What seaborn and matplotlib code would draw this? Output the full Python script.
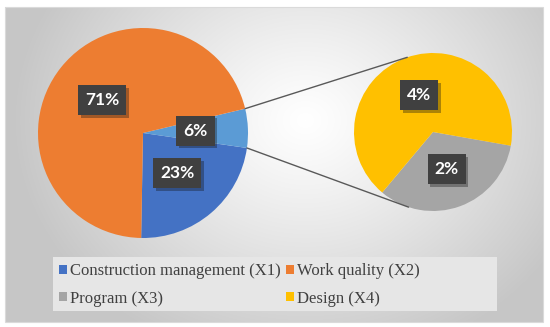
import numpy as np
import matplotlib
matplotlib.use("Agg")
import matplotlib.pyplot as plt
import matplotlib.patheffects as pe
from matplotlib.patches import Rectangle, Patch
import seaborn as sns

# ---- data ----
categories = ["Construction management (X1)", "Work quality (X2)", "Program (X3)", "Design (X4)"]
shares = [23, 71, 2, 4]  # percent
main_labels = ["Construction management (X1)", "Other", "Work quality (X2)"]
main_values = [23, 6, 71]
sub_labels = ["Program (X3)", "Design (X4)"]
sub_values = [2, 4]

colors = {"Construction management (X1)": "#4472C4",
          "Work quality (X2)": "#ED7D31",
          "Program (X3)": "#A5A5A5",
          "Design (X4)": "#FFC000",
          "Other": "#5B9BD5"}

sns.set_theme(style="white")

W, H = 550, 327
fig = plt.figure(figsize=(W / 100, H / 100), dpi=100)
ax = fig.add_axes([0, 0, 1, 1])
ax.set_facecolor("white")

def Y(y):
    return H - y

# background radial gradient
x0, x1, y0, y1 = 5, 543, 7, 322
gx, gy = np.meshgrid(np.arange(x0, x1), np.arange(y0, y1))
d = np.sqrt(((gx - 305) / 1.0) ** 2 + ((gy - 120) / 0.85) ** 2)
t = np.clip(d / 290.0, 0, 1) ** 1.15
val = 1.0 - 0.22 * t
img = np.dstack([val, val, val])
ax.imshow(img, extent=(x0, x1, Y(y1), Y(y0)), origin="upper", aspect="auto", zorder=0)
ax.add_patch(Rectangle((x0, Y(y1)), x1 - x0, y1 - y0, fill=False, ec="#dadada", lw=0.8, zorder=1))

label_kw = dict(color="white", fontsize=12.5, fontweight="bold", family=["Lato", "DejaVu Sans"])

def style_labels(texts):
    for t in texts:
        t.set(**label_kw)
        t.set_bbox(dict(boxstyle="square,pad=0.4", fc="#404040", ec="none"))
        t.get_bbox_patch().set_path_effects([pe.SimplePatchShadow(offset=(2, -2), alpha=0.35), pe.Normal()])
        t.set_zorder(6)

# main pie
mc = (143, Y(133))
mr = 105
main_total = sum(main_values)
wedges, _, mtexts = ax.pie(main_values, colors=[colors[l] for l in main_labels],
                           startangle=-91, counterclock=True, center=mc, radius=mr,
                           autopct=lambda p: f"{p * main_total / 100:.0f}%", pctdistance=0.5,
                           wedgeprops=dict(linewidth=0), frame=True)
style_labels(mtexts)

# sub pie
sc = (433, Y(132))
sr = 79
sub_total = sum(sub_values)
swedges, _, stexts = ax.pie(sub_values, colors=[colors[l] for l in sub_labels],
                            startangle=-130, counterclock=True, center=sc, radius=sr,
                            autopct=lambda p: f"{p * sub_total / 100:.0f}%", pctdistance=0.5,
                            wedgeprops=dict(linewidth=0), frame=True)
style_labels(stexts)

# connector lines
ow = wedges[1]
for a_main, a_sub in [(ow.theta2, 109), (ow.theta1, -108)]:
    p1 = (mc[0] + mr * np.cos(np.radians(a_main)), mc[1] + mr * np.sin(np.radians(a_main)))
    p2 = (sc[0] + sr * np.cos(np.radians(a_sub)), sc[1] + sr * np.sin(np.radians(a_sub)))
    ax.plot([p1[0], p2[0]], [p1[1], p2[1]], color="#595959", lw=1.0, zorder=3)

# legend (row-wise order: X1, X2 / X3, X4)
ax.add_patch(Rectangle((53, Y(311)), 444, 54, fc="#e6e6e6", ec="none", zorder=2))
order = [0, 2, 1, 3]
handles = [Patch(fc=colors[categories[i]], ec="none") for i in order]
labels = [categories[i] for i in order]
leg = ax.legend(handles, labels, ncol=2, loc="upper left",
                bbox_to_anchor=(59, Y(263)), bbox_transform=ax.transData,
                frameon=False, borderpad=0, borderaxespad=0,
                handlelength=0.45, handleheight=0.45, handletextpad=0.2,
                columnspacing=0.35, labelspacing=0.7,
                prop=dict(family="Liberation Serif", size=12))
for t in leg.get_texts():
    t.set_color("#404040")
leg.set_zorder(5)

ax.set_xlim(0, W)
ax.set_ylim(0, H)
ax.set_aspect("equal")
ax.axis("off")

fig.savefig("out.png", dpi=100, facecolor="white")
